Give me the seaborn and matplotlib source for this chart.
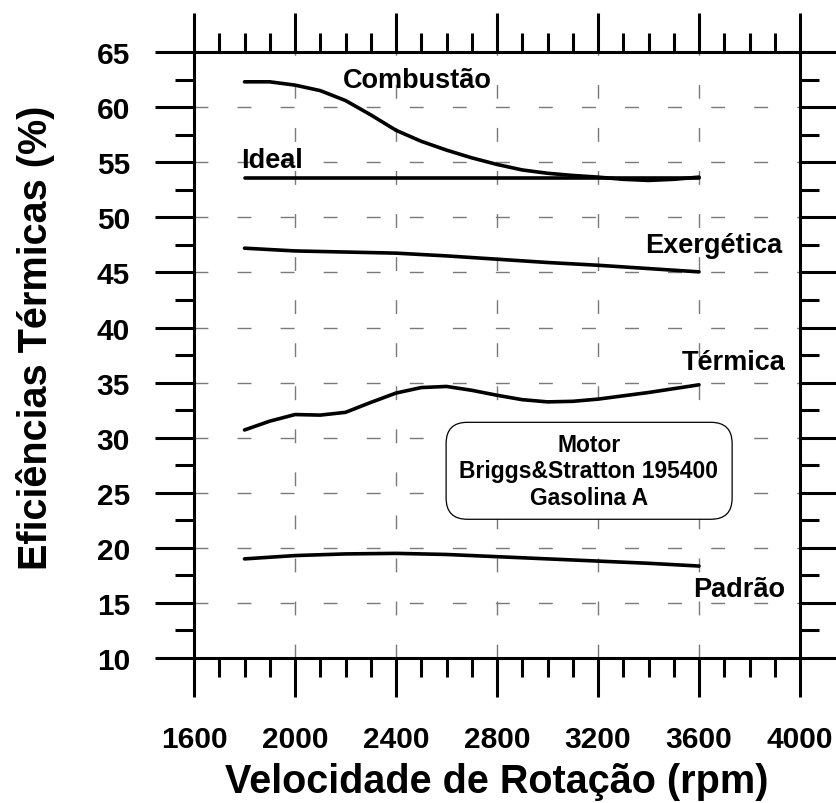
import matplotlib
matplotlib.use('Agg')
import matplotlib.pyplot as plt
import seaborn as sns
from matplotlib.patches import FancyBboxPatch
from matplotlib.ticker import MultipleLocator

# Data
rpm_fine = [1800, 1900, 2000, 2100, 2200, 2300, 2400, 2500, 2600, 2700,
            2800, 2900, 3000, 3100, 3200, 3300, 3400, 3500, 3600]
combustao = [62.3, 62.3, 62.0, 61.5, 60.6, 59.3, 57.9, 56.9, 56.1, 55.4,
             54.8, 54.3, 54.0, 53.8, 53.65, 53.45, 53.35, 53.45, 53.65]
termica = [30.7, 31.5, 32.1, 32.05, 32.3, 33.2, 34.05, 34.55, 34.65, 34.3,
           33.85, 33.45, 33.25, 33.3, 33.5, 33.8, 34.1, 34.45, 34.8]

rpm_coarse = [1800, 2000, 2200, 2400, 2600, 2800, 3000, 3200, 3400, 3600]
exergetica = [47.2, 46.95, 46.85, 46.75, 46.5, 46.2, 45.9, 45.65, 45.35, 45.05]
padrao = [19.0, 19.3, 19.45, 19.5, 19.4, 19.2, 19.0, 18.8, 18.6, 18.35]

rpm_ideal = [1800, 3600]
ideal = [53.6, 53.6]

series = [(rpm_fine, combustao), (rpm_fine, termica), (rpm_coarse, exergetica),
          (rpm_coarse, padrao), (rpm_ideal, ideal)]

# label text, x, y (baseline), alignment
labels = [('Combustão', 2190, 61.8, 'left'),
          ('Ideal', 1786, 54.55, 'left'),
          ('Exergética', 3928, 46.84, 'right'),
          ('Térmica', 3941, 36.2, 'right'),
          ('Padrão', 3941, 15.6, 'right')]

sns.set_style('ticks')
plt.rcParams['font.family'] = ['Liberation Sans', 'DejaVu Sans']
plt.rcParams['font.weight'] = 'bold'
for key in ['text.color', 'axes.labelcolor', 'xtick.color', 'ytick.color',
            'xtick.labelcolor', 'ytick.labelcolor']:
    plt.rcParams[key] = 'black'

fig = plt.figure(figsize=(8.37, 8.04), dpi=100)
ax = fig.add_axes([0.2318, 0.1803, 0.724, 0.7537])

for xs, ys in series:
    sns.lineplot(x=xs, y=ys, color='black', linewidth=2.6, ax=ax, zorder=4,
                 solid_capstyle='round')

ax.set_xlim(1600, 4000)
ax.set_ylim(10, 65)
ax.xaxis.set_major_locator(MultipleLocator(400))
ax.xaxis.set_minor_locator(MultipleLocator(100))
ax.yaxis.set_major_locator(MultipleLocator(5))
ax.yaxis.set_minor_locator(MultipleLocator(2.5))

ax.grid(True, which='major', color='#7a7a7a', linewidth=1.0, linestyle=(0, (10, 21)))
ax.set_axisbelow(True)

for s in ax.spines.values():
    s.set_linewidth(2.2)
    s.set_color('black')

ax.tick_params(which='major', direction='out', length=28, width=2.2, top=True,
               right=True, labelsize=21.5)
ax.tick_params(which='minor', direction='out', length=14, width=2.2, top=True,
               right=True)
ax.tick_params(axis='x', pad=20)
ax.tick_params(axis='y', pad=18)

ax.set_xlabel('Velocidade de Rotação (rpm)', fontsize=28.5, fontweight='bold')
ax.set_ylabel('Eficiências Térmicas (%)', fontsize=28.5, fontweight='bold')
ax.xaxis.set_label_coords(0.5, -0.172)
ax.yaxis.set_label_coords(-0.229, 0.53)

for txt, x, y, ha in labels:
    ax.text(x, y, txt, fontsize=19.5, fontweight='bold', ha=ha, va='baseline', zorder=5)

box = FancyBboxPatch((0.416, 0.229), 0.472, 0.160,
                     boxstyle='round,pad=0,rounding_size=0.035',
                     transform=ax.transAxes, facecolor='white', edgecolor='black',
                     linewidth=0.9, zorder=3)
ax.add_patch(box)
ax.text(3164, 27.0, 'Motor\nBriggs&Stratton 195400\nGasolina A', fontsize=16.5,
        fontweight='bold', ha='center', va='center', multialignment='center',
        linespacing=1.2, zorder=5)

fig.savefig('out.png', dpi=100)
